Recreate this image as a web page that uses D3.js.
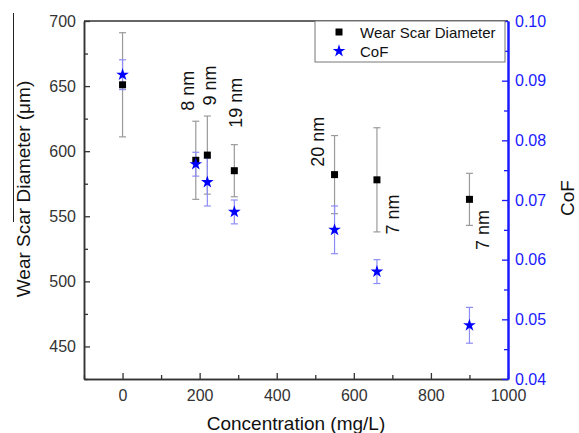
<!DOCTYPE html>
<html>
<head>
<meta charset="utf-8">
<script src="https://cdn.jsdelivr.net/npm/d3@7"></script>
<style>
    body { margin: 0; background: #fff; }
    svg text { font-family: "Liberation Sans", Arial, sans-serif; }
</style>
</head>
<body>
<div id="chart"></div>
<script>
// data
const concentration = [0, 190, 220, 290, 550, 660, 900];
const wsd = [651, 593, 597, 585, 582, 578, 563];
const wsdErr = [40, 30, 30, 20, 30, 40, 20];
const cof = [0.091, 0.076, 0.073, 0.068, 0.065, 0.058, 0.049];
const cofErr = [0.0025, 0.002, 0.004, 0.002, 0.004, 0.002, 0.003];

// particle size annotations (anchored in data units)
const sizeLabels = ["8 nm", "9 nm", "19 nm", "20 nm", "7 nm", "7 nm"];
const labelConc = [186, 243, 311, 523, 718, 951];
const labelWsd = [631, 635, 618, 588, 536, 524];

const xTicks = [0, 200, 400, 600, 800, 1000];
const leftTicks = [450, 500, 550, 600, 650, 700];
const rightTicks = [0.04, 0.05, 0.06, 0.07, 0.08, 0.09, 0.10];

const width = 579, height = 433;
const plot = {left: 84, right: 508, top: 21, bottom: 379};

const svg = d3.select("#chart").append("svg")
    .attr("width", width)
    .attr("height", height);

const x = d3.scaleLinear().domain([-100, 1000]).range([plot.left, plot.right]);
const yL = d3.scaleLinear().domain([425, 700]).range([plot.bottom, plot.top]);
const yR = d3.scaleLinear().domain([0.04, 0.10]).range([plot.bottom, plot.top]);

// minor ticks
const xMinor = d3.range(-100, 1001, 100).filter(d => xTicks.indexOf(d) < 0);
const leftMinor = d3.range(425, 701, 25).filter(d => leftTicks.indexOf(d) < 0);
const rightMinor = d3.range(0.045, 0.1, 0.01);

function styleAxis(g, color, lineWidth, fontSize) {
    g.selectAll("path").attr("stroke", color).attr("stroke-width", lineWidth);
    g.selectAll("line").attr("stroke", color).attr("stroke-width", 1.3);
    g.selectAll("text").attr("fill", color).style("font-size", fontSize + "px");
}

// x axis
svg.append("g")
    .attr("transform", `translate(0,${plot.bottom})`)
    .call(d3.axisBottom(x).tickValues(xMinor).tickSize(-4).tickSizeOuter(0).tickFormat(""))
    .call(g => styleAxis(g, "#333", 1.5, 16));
svg.append("g")
    .attr("transform", `translate(0,${plot.bottom})`)
    .call(d3.axisBottom(x).tickValues(xTicks).tickSize(-6).tickSizeOuter(0).tickPadding(11).tickFormat(d3.format("d")))
    .call(g => styleAxis(g, "#333", 1.5, 16));

// left axis
svg.append("g")
    .attr("transform", `translate(${plot.left},0)`)
    .call(d3.axisLeft(yL).tickValues(leftMinor).tickSize(-4).tickSizeOuter(0).tickFormat(""))
    .call(g => styleAxis(g, "#333", 1.5, 16));
svg.append("g")
    .attr("transform", `translate(${plot.left},0)`)
    .call(d3.axisLeft(yL).tickValues(leftTicks).tickSize(-6).tickSizeOuter(0).tickPadding(8).tickFormat(d3.format("d")))
    .call(g => styleAxis(g, "#333", 1.5, 16));

// top border
svg.append("line")
    .attr("x1", plot.left).attr("x2", plot.right)
    .attr("y1", plot.top).attr("y2", plot.top)
    .attr("stroke", "#333").attr("stroke-width", 1.5);

// right axis (CoF)
svg.append("g")
    .attr("transform", `translate(${plot.right},0)`)
    .call(d3.axisRight(yR).tickValues(rightMinor).tickSize(-4).tickSizeOuter(0).tickFormat(""))
    .call(g => styleAxis(g, "#1a1aff", 2, 16));
svg.append("g")
    .attr("transform", `translate(${plot.right},0)`)
    .call(d3.axisRight(yR).tickValues(rightTicks).tickSize(-6).tickSizeOuter(0).tickPadding(7).tickFormat(d3.format(".2f")))
    .call(g => styleAxis(g, "#1a1aff", 2, 16));

// axis titles
svg.append("text")
    .attr("x", (plot.left + plot.right) / 2 + 0)
    .attr("y", 430)
    .attr("text-anchor", "middle")
    .style("font-size", "19px")
    .attr("fill", "#111")
    .text("Concentration (mg/L)");

svg.append("text")
    .attr("transform", "translate(30,189) rotate(-90)")
    .attr("text-anchor", "middle")
    .style("font-size", "19px")
    .attr("fill", "#111")
    .text("Wear Scar Diameter (\u03bcm)");

// stray overline from the original figure
svg.append("line")
    .attr("x1", 13.5).attr("x2", 13.5)
    .attr("y1", 13).attr("y2", 222)
    .attr("stroke", "#222").attr("stroke-width", 1);

svg.append("text")
    .attr("transform", "translate(574,198) rotate(-90)")
    .attr("text-anchor", "middle")
    .style("font-size", "19px")
    .attr("fill", "#111")
    .text("CoF");

const rows = concentration.map((c, i) => ({c: c, w: wsd[i], we: wsdErr[i], f: cof[i], fe: cofErr[i]}));
const cap = 3.5;

// error bars: wear scar (grey)
const wErr = svg.append("g").attr("stroke", "#9a9a9a").attr("stroke-width", 1.2);
rows.forEach(d => {
    wErr.append("line").attr("x1", x(d.c)).attr("x2", x(d.c)).attr("y1", yL(d.w - d.we)).attr("y2", yL(d.w + d.we));
    wErr.append("line").attr("x1", x(d.c) - cap).attr("x2", x(d.c) + cap).attr("y1", yL(d.w - d.we)).attr("y2", yL(d.w - d.we));
    wErr.append("line").attr("x1", x(d.c) - cap).attr("x2", x(d.c) + cap).attr("y1", yL(d.w + d.we)).attr("y2", yL(d.w + d.we));
});

// error bars: CoF (light blue)
const fErr = svg.append("g").attr("stroke", "#8c8cf5").attr("stroke-width", 1.2);
rows.forEach(d => {
    fErr.append("line").attr("x1", x(d.c)).attr("x2", x(d.c)).attr("y1", yR(d.f - d.fe)).attr("y2", yR(d.f + d.fe));
    fErr.append("line").attr("x1", x(d.c) - cap).attr("x2", x(d.c) + cap).attr("y1", yR(d.f - d.fe)).attr("y2", yR(d.f - d.fe));
    fErr.append("line").attr("x1", x(d.c) - cap).attr("x2", x(d.c) + cap).attr("y1", yR(d.f + d.fe)).attr("y2", yR(d.f + d.fe));
});

const square = d3.symbol().type(d3.symbolSquare).size(49);
const star = d3.symbol().type(d3.symbolStar).size(50);

svg.append("g").selectAll("path")
    .data(rows)
    .enter().append("path")
    .attr("d", square)
    .attr("transform", d => `translate(${x(d.c)},${yL(d.w)})`)
    .attr("fill", "#000");

svg.append("g").selectAll("path")
    .data(rows)
    .enter().append("path")
    .attr("d", star)
    .attr("transform", d => `translate(${x(d.c)},${yR(d.f)})`)
    .attr("fill", "#0000ff");

// size annotations
svg.append("g").selectAll("text")
    .data(sizeLabels)
    .enter().append("text")
    .attr("transform", (d, i) => `translate(${x(labelConc[i])},${yL(labelWsd[i])}) rotate(-90)`)
    .style("font-size", "18px")
    .attr("fill", "#111")
    .text(d => d);

// legend
const legend = svg.append("g");
legend.append("rect")
    .attr("x", 315).attr("y", plot.top)
    .attr("width", 190).attr("height", 41)
    .attr("fill", "#fff")
    .attr("stroke", "#777").attr("stroke-width", 1);
legend.append("path")
    .attr("d", square)
    .attr("transform", "translate(339,32)")
    .attr("fill", "#000");
legend.append("path")
    .attr("d", star)
    .attr("transform", "translate(339,51)")
    .attr("fill", "#0000ff");
legend.append("text")
    .attr("x", 360).attr("y", 37.5)
    .style("font-size", "15px")
    .attr("fill", "#111")
    .text("Wear Scar Diameter");
legend.append("text")
    .attr("x", 360).attr("y", 56.5)
    .style("font-size", "15px")
    .attr("fill", "#111")
    .text("CoF");
</script>
</body>
</html>
